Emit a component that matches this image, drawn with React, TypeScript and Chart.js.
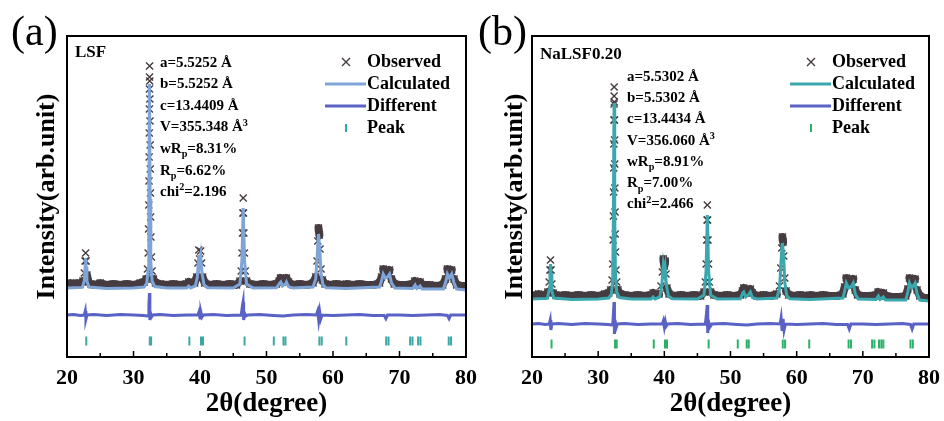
import React, { useEffect, useRef } from "react";
import { Chart, registerables } from "chart.js";

Chart.register(...registerables);

const SERIF = '"Liberation Serif", "Times New Roman", Times, serif';

// ---- shared axis / legend text ----
const xTickValues = [20, 25, 30, 35, 40, 45, 50, 55, 60, 65, 70, 75, 80];
const xTickLabels = ["20", "", "30", "", "40", "", "50", "", "60", "", "70", "", "80"];
const xTitle = "2θ(degree)";
const yTitle = "Intensity(arb.unit)";
const legendLabels = ["Observed", "Calculated", "Different", "Peak"];

// ---- Panel (a) LSF ----
const labelA = "(a)";
const sampleA = "LSF";
const statsA = ["a=5.5252 Å", "b=5.5252 Å", "c=13.4409 Å", "V=355.348 Å{^3}", "wR{_p}=8.31%", "R{_p}=6.62%", "chi{^2}=2.196"];

const obsXA = [
  20, 20.5, 21, 21.5, 22, 22.4, 22.6, 22.72, 22.8, 22.88,
  23, 23.2, 23.6, 24.2, 25, 26, 27, 28, 29, 30,
  31, 31.6, 31.9, 32.1, 32.2, 32.26, 32.3, 32.33, 32.35, 32.37,
  32.39, 32.4, 32.41, 32.42, 32.44, 32.46, 32.48, 32.5, 32.52, 32.55,
  32.58, 32.62, 32.7, 32.8, 33, 33.3, 34, 35, 36, 37,
  38, 38.3, 38.6, 39.2, 39.5, 39.7, 39.82, 39.95, 40.1, 40.25,
  40.4, 40.7, 41.5, 42.5, 43.5, 44.5, 45.5, 46, 46.2, 46.32,
  46.4, 46.46, 46.5, 46.54, 46.6, 46.68, 46.8, 47, 47.5, 48.5,
  49.5, 50.5, 51.5, 51.9, 52.1, 52.35, 52.8, 53, 53.3, 54,
  55, 56, 57, 57.4, 57.6, 57.72, 57.82, 57.95, 58.05, 58.2,
  58.4, 58.8, 59.5, 60.5, 61.5, 62, 63, 64, 65, 66,
  67, 67.3, 67.55, 67.8, 68.2, 68.5, 68.8, 69.2, 70, 71,
  72, 72.3, 72.6, 73.1, 73.5, 74.5, 75.5, 76.5, 76.9, 77.2,
  77.5, 77.85, 78.2, 78.6, 79.3, 80,
];
const obsYA = [
  2.5, 3, 2, 3, 2.5, 4, 8, 14, 18, 14,
  7, 3.5, 2.5, 2, 3, 2, 2.5, 2, 2.5, 2,
  3, 3.5, 5, 10, 18, 30, 42, 54, 66, 78,
  90, 100, 106, 111.5, 104, 95, 84, 72, 60, 48,
  36, 26, 16, 9, 5, 3, 2.5, 2, 2.5, 2,
  2.5, 3.5, 2.5, 3, 6, 13, 19.5, 15, 19, 13,
  6, 3, 2, 2.5, 2, 2.5, 2, 4, 9, 18,
  28, 38, 45.5, 38, 28, 18, 9, 4, 2.5, 2,
  2.5, 2, 2.5, 4, 5.5, 3.5, 4, 5.5, 3.5, 2,
  2.5, 2, 3, 6, 14, 24, 30.5, 27, 20, 10,
  4.5, 2.5, 2, 2.5, 2, 2.5, 2, 2.5, 2, 2,
  3, 6, 10, 7, 7.5, 9.5, 5, 2.5, 2, 2,
  2.5, 4, 2, 3.5, 2, 2, 1.5, 2, 5, 10,
  7, 9.5, 5, 2, 1.5, 1.5,
];
const calcXA = [
  20, 22.3, 22.6, 22.72, 22.8, 22.88, 23, 23.3, 26, 30,
  31.6, 32, 32.2, 32.3, 32.4, 32.5, 32.6, 32.8, 33.2, 35,
  38, 38.3, 38.6, 39.3, 39.6, 39.82, 39.95, 40.1, 40.3, 40.6,
  41.2, 45, 46, 46.3, 46.5, 46.7, 47, 48, 51.5, 52,
  52.15, 52.4, 52.85, 53, 53.3, 54, 57, 57.4, 57.65, 57.82,
  58, 58.2, 58.5, 59, 62, 67, 67.3, 67.55, 67.85, 68.2,
  68.5, 68.8, 69.3, 72, 72.35, 72.6, 73.1, 73.4, 76.6, 76.95,
  77.2, 77.5, 77.85, 78.2, 78.6, 80,
];
const calcYA = [
  0.5, 0.8, 4, 11, 15.5, 11, 4, 1, 0.3, 0.5,
  1, 3, 10, 40, 102.5, 45, 14, 4, 1.2, 0.5,
  0.5, 1.5, 0.5, 1.5, 6, 17, 13, 16.5, 8, 2,
  0.6, 0.5, 2.5, 14, 40.5, 14, 2.5, 0.5, 0.6, 3,
  3.5, 1.5, 2.5, 3.5, 1.2, 0.5, 1, 5, 18, 27.5,
  21, 8, 2, 0.6, 0.3, 1, 4, 7.5, 5.5, 6,
  7.5, 3, 0.5, 0.3, 2, 0.3, 1.5, 0, 0, 3.5,
  7.5, 5.5, 7.5, 3, 0, -0.5,
];
const diffXA = [
  20, 21, 22, 22.6, 22.75, 22.85, 23, 24, 26, 28,
  30, 31.5, 32.2, 32.32, 32.4, 32.46, 32.55, 32.7, 32.9, 34,
  36, 38, 39.7, 39.85, 40, 40.15, 40.3, 40.5, 42, 44,
  46.2, 46.4, 46.48, 46.56, 46.7, 46.9, 47.2, 49, 51, 52.5,
  54, 56, 57.5, 57.7, 57.85, 58, 58.15, 58.35, 60, 62,
  64, 66, 67.7, 67.95, 68.2, 70, 72, 74, 76, 77.2,
  77.45, 77.7, 79, 80,
];
const diffYA = [
  -13, -12.7, -13.2, -13, -11, -15, -13, -12.8, -13.2, -12.8,
  -13, -13.2, -13.5, -8, -2, -15.5, -12, -14, -13, -12.8,
  -13.2, -13, -13, -11.5, -14.5, -11.8, -14, -13, -12.8, -13.2,
  -13, -8, -6.5, -15.5, -12, -13.5, -13, -12.8, -13.2, -13.5,
  -13, -12.8, -13, -11, -15.5, -11.5, -15, -13, -13.2, -13,
  -12.8, -13.2, -13.2, -14.8, -13, -13, -13.3, -13, -12.8, -13.2,
  -14.8, -13, -13, -13,
];
const peakXA = [22.9, 32.45, 32.65, 38.4, 40.15, 40.45, 46.7, 51.1, 52.55, 52.85, 57.95, 58.3, 62.0, 68.0, 68.35, 71.6, 71.95, 72.8, 73.15, 77.4, 77.75];

// ---- Panel (b) NaLSF0.20 ----
const labelB = "(b)";
const sampleB = "NaLSF0.20";
const statsB = ["a=5.5302 Å", "b=5.5302 Å", "c=13.4434 Å", "V=356.060 Å{^3}", "wR{_p}=8.91%", "R{_p}=7.00%", "chi{^2}=2.466"];

const obsXB = [
  20, 20.5, 21, 21.5, 22, 22.4, 22.6, 22.72, 22.8, 22.88,
  23, 23.2, 23.6, 24.2, 25, 26, 27, 28, 29, 30,
  31, 31.6, 31.9, 32.1, 32.2, 32.26, 32.3, 32.33, 32.35, 32.37,
  32.39, 32.4, 32.41, 32.42, 32.44, 32.46, 32.48, 32.5, 32.52, 32.55,
  32.58, 32.62, 32.7, 32.8, 33, 33.3, 34, 35, 36, 37,
  38, 38.3, 38.6, 39.2, 39.5, 39.7, 39.85, 40, 40.12, 40.25,
  40.4, 40.7, 41.5, 42.5, 43.5, 44.5, 45.5, 46, 46.2, 46.32,
  46.4, 46.46, 46.5, 46.54, 46.6, 46.68, 46.8, 47, 47.5, 48.5,
  49.5, 50.5, 51.5, 51.8, 52, 52.3, 52.8, 53, 53.3, 54,
  55, 56, 57, 57.4, 57.6, 57.75, 57.85, 57.95, 58.05, 58.2,
  58.4, 58.8, 59.5, 60.5, 61.5, 62, 63, 64, 65, 66,
  67, 67.25, 67.5, 67.8, 68.2, 68.55, 68.85, 69.2, 70, 71,
  72, 72.3, 72.6, 73.1, 73.5, 74.5, 75.5, 76.5, 76.8, 77.05,
  77.4, 77.9, 78.2, 78.6, 79.3, 80,
];
const obsYB = [
  2.5, 2, 3, 2, 2.5, 4, 9, 15, 20, 15,
  8, 3.5, 2.5, 2, 2.5, 2, 2.5, 2, 2.5, 2,
  3, 3.5, 5, 10, 18, 30, 42, 54, 66, 78,
  90, 98, 102, 106.5, 99, 90, 80, 68, 56, 44,
  33, 24, 15, 9, 5, 3, 2.5, 2, 2.5, 2,
  2.5, 3.5, 2.5, 3, 7, 14, 20.5, 17, 19.5, 13,
  6, 3, 2, 2.5, 2, 2.5, 2, 4, 9, 18,
  30, 40, 47.5, 40, 30, 18, 9, 4, 2.5, 2,
  2.5, 2, 2.5, 4.5, 6, 3.5, 4.5, 5.5, 3.5, 2,
  2.5, 2, 3, 7, 16, 26, 31.5, 29, 22, 11,
  4.5, 2.5, 2, 2.5, 2, 2.5, 2, 2.5, 2, 2,
  3, 6.5, 11, 7.5, 8, 10.5, 5, 2.5, 2, 2,
  2.5, 4, 2, 3.5, 2, 1.5, 1.5, 2, 5.5, 11,
  7.5, 10.5, 5, 2, 1, 1,
];
const calcXB = [
  20, 22.3, 22.6, 22.72, 22.8, 22.88, 23, 23.3, 26, 30,
  31.6, 32, 32.2, 32.3, 32.4, 32.5, 32.6, 32.8, 33.2, 35,
  38, 38.3, 38.6, 39.3, 39.6, 39.85, 40, 40.12, 40.3, 40.6,
  41.2, 45, 46, 46.3, 46.5, 46.7, 47, 48, 51.5, 51.85,
  52, 52.3, 52.8, 53, 53.3, 54, 57, 57.4, 57.65, 57.85,
  58.05, 58.2, 58.5, 59, 62, 67, 67.25, 67.5, 67.85, 68.2,
  68.55, 68.85, 69.3, 72, 72.35, 72.6, 73.1, 73.4, 76.5, 76.8,
  77.05, 77.4, 77.9, 78.2, 78.6, 80,
];
const calcYB = [
  0.5, 0.8, 5, 13, 18, 13, 4.5, 1, 0.3, 0.5,
  1, 3, 10, 40, 98.5, 45, 14, 4, 1.2, 0.5,
  0.5, 1.5, 0.5, 1.5, 7, 17.5, 14, 16.5, 8, 2,
  0.6, 0.5, 2.5, 14, 42.5, 14, 2.5, 0.5, 0.6, 3.5,
  4, 1.5, 3, 4, 1.2, 0.5, 1, 5.5, 20, 28.5,
  21, 9, 2, 0.6, 0.3, 1, 4.5, 8.5, 6, 6.5,
  8.5, 3, 0.5, 0.3, 2, 0.3, 1.5, 0, 0, 4,
  8.5, 6, 8.5, 3, 0, -0.5,
];
const diffXB = [
  20, 21, 22, 22.6, 22.75, 22.85, 23, 24, 26, 28,
  30, 31.5, 32.2, 32.32, 32.4, 32.46, 32.55, 32.7, 32.9, 34,
  36, 38, 39.7, 39.85, 40, 40.15, 40.3, 40.5, 42, 44,
  46.2, 46.4, 46.48, 46.56, 46.7, 46.9, 47.2, 49, 51, 52.5,
  54, 56, 57.5, 57.65, 57.8, 57.95, 58.1, 58.3, 60, 62,
  64, 66, 67.7, 67.95, 68.2, 70, 72, 74, 76, 77.2,
  77.45, 77.7, 79, 80,
];
const diffYB = [
  -12, -11.7, -12.2, -12, -10, -15, -12, -11.8, -12.2, -11.8,
  -12, -12.2, -12.5, -6, -1, -17, -10, -14, -12, -11.8,
  -12.2, -12, -12, -10.5, -13.5, -10.8, -13, -12, -11.8, -12.2,
  -12, -6, -2.5, -16.5, -11, -13.5, -12, -11.8, -12.2, -12.5,
  -12, -11.8, -12, -9, -15.5, -9.5, -15, -12, -12.2, -12,
  -11.8, -12.2, -12.2, -14.5, -12, -12, -12.3, -12, -11.8, -12.2,
  -14.5, -12, -12, -12,
];
const peakXB = [22.95, 32.55, 32.8, 38.4, 40.1, 40.4, 46.7, 51.1, 52.45, 52.75, 57.9, 58.25, 61.9, 67.85, 68.2, 71.4, 71.75, 72.45, 72.8, 73.1, 77.2, 77.55];

// ---- styles ----
const OBS = "#463c41";
const DIFF = "#5a62c6";

interface Panel {
  label: string; sample: string; stats: string[];
  obsX: number[]; obsY: number[]; calcX: number[]; calcY: number[];
  diffX: number[]; diffY: number[]; peakX: number[]; peakLevel: number;
  yMin: number; yMax: number; calcColor: string; peakColor: string;
  plotLeft: number; padTop: number; padRight: number; yTitleX: number;
  labelX: number; sampleDy: number; statsDx: number; statsDy: number; statsStep: number; legendDx: number;
}

const panelA: Panel = {
  label: labelA, sample: sampleA, stats: statsA,
  obsX: obsXA, obsY: obsYA, calcX: calcXA, calcY: calcYA, diffX: diffXA, diffY: diffYA,
  peakX: peakXA, peakLevel: -26, yMin: -34, yMax: 126.5,
  calcColor: "#7fa5d8", peakColor: "#3ba7a4",
  plotLeft: 67, padTop: 36, padRight: 14, yTitleX: 47,
  labelX: 11, sampleDy: 20.5, statsDx: 93, statsDy: 30.5, statsStep: 21.6, legendDx: 99,
};
const panelB: Panel = {
  label: labelB, sample: sampleB, stats: statsB,
  obsX: obsXB, obsY: obsYB, calcX: calcXB, calcY: calcYB, diffX: diffXB, diffY: diffYB,
  peakX: peakXB, peakLevel: -22, yMin: -28.5, yMax: 132,
  calcColor: "#3aa8ae", peakColor: "#2bb067",
  plotLeft: 60, padTop: 36, padRight: 15, yTitleX: 43,
  labelX: 6, sampleDy: 23, statsDx: 95, statsDy: 45, statsStep: 21.2, legendDx: 97,
};

function drawRich(ctx: CanvasRenderingContext2D, text: string, x: number, y: number, size: number) {
  const re = /\{([\^_])([^}]*)\}/g;
  const parts: [string, number][] = [];
  let last = 0;
  let m: RegExpExecArray | null;
  while ((m = re.exec(text))) {
    if (m.index > last) parts.push([text.slice(last, m.index), 0]);
    parts.push([m[2], m[1] === "^" ? 1 : -1]);
    last = re.lastIndex;
  }
  if (last < text.length) parts.push([text.slice(last), 0]);
  let cx = x;
  for (const [t, k] of parts) {
    const s = k === 0 ? size : size * 0.68;
    ctx.font = `bold ${s}px ${SERIF}`;
    const dy = k === 1 ? -size * 0.38 : k === -1 ? size * 0.3 : 0;
    ctx.fillText(t, cx, y + dy);
    cx += ctx.measureText(t).width;
  }
}

function buildChart(canvas: HTMLCanvasElement, p: Panel) {
  const pts = (xs: number[], ys: number[]) => xs.map((x, i) => ({ x, y: ys[i] }));
  const deco = {
    id: "deco",
    afterDraw(chart: any) {
      const ctx: CanvasRenderingContext2D = chart.ctx;
      const a = chart.chartArea;
      const xs = chart.scales.x;
      ctx.save();
      // inward ticks on bottom axis
      ctx.strokeStyle = "#000";
      ctx.lineWidth = 1.5;
      ctx.beginPath();
      xTickValues.forEach((v, i) => {
        const px = xs.getPixelForValue(v);
        const len = xTickLabels[i] ? 6 : 4;
        ctx.moveTo(px, a.bottom);
        ctx.lineTo(px, a.bottom - len);
      });
      ctx.stroke();
      // frame
      ctx.lineWidth = 2;
      ctx.strokeRect(a.left, a.top, a.right - a.left, a.bottom - a.top);
      ctx.fillStyle = "#000";
      ctx.textAlign = "left";
      ctx.textBaseline = "alphabetic";
      ctx.font = `42px ${SERIF}`;
      ctx.fillText(p.label, p.labelX, 45);
      ctx.font = `bold 17px ${SERIF}`;
      ctx.fillText(p.sample, a.left + 8, a.top + p.sampleDy);
      p.stats.forEach((s, i) => drawRich(ctx, s, a.left + p.statsDx, a.top + p.statsDy + i * p.statsStep, 15));
      const colors = [OBS, p.calcColor, DIFF, p.peakColor];
      legendLabels.forEach((t, i) => {
        const y = a.top + 26 + i * 22;
        const tx = a.right - p.legendDx;
        const cx = tx - 21;
        ctx.strokeStyle = colors[i];
        ctx.beginPath();
        if (i === 0) {
          ctx.lineWidth = 1.4;
          ctx.moveTo(cx - 4, y - 4); ctx.lineTo(cx + 4, y + 4);
          ctx.moveTo(cx + 4, y - 4); ctx.lineTo(cx - 4, y + 4);
        } else if (i === 3) {
          ctx.lineWidth = 2;
          ctx.moveTo(cx, y - 4); ctx.lineTo(cx, y + 4);
        } else {
          ctx.lineWidth = 3;
          ctx.moveTo(tx - 42, y); ctx.lineTo(tx - 1, y);
        }
        ctx.stroke();
        ctx.font = `bold 18px ${SERIF}`;
        ctx.textBaseline = "middle";
        ctx.fillText(t, tx, y);
        ctx.textBaseline = "alphabetic";
      });
      ctx.restore();
    },
  };
  const titleFont = { family: SERIF, size: 26, weight: "bold" as const };
  return new Chart(canvas, {
    type: "line",
    data: {
      datasets: [
        { label: "Calculated", data: pts(p.calcX, p.calcY), borderColor: p.calcColor, borderWidth: 3, pointRadius: 0, tension: 0, order: 0 },
        { label: "Different", data: pts(p.diffX, p.diffY), borderColor: DIFF, borderWidth: 3, pointRadius: 0, tension: 0, order: 1 },
        {
          label: "Peak", data: p.peakX.map((x) => ({ x, y: p.peakLevel })), showLine: false,
          pointStyle: "line", pointRotation: 90, pointRadius: 4.5, pointBorderWidth: 2,
          pointBorderColor: p.peakColor, borderColor: p.peakColor, backgroundColor: p.peakColor, order: 2,
        },
        {
          label: "Observed", data: pts(p.obsX, p.obsY), borderColor: OBS, borderWidth: 8,
          borderJoinStyle: "round", borderCapStyle: "round",
          tension: 0,
          segment: {
            borderColor: (c: any) => {
              const dx = Math.abs(c.p1.x - c.p0.x);
              const dy = Math.abs(c.p1.y - c.p0.y);
              return dy > 7 && dy > 2 * dx ? "rgba(0,0,0,0)" : OBS;
            },
          },
          pointStyle: "crossRot", pointRadius: 5, pointBorderWidth: 1.4,
          pointBorderColor: OBS, pointBackgroundColor: OBS, order: 3,
        },
      ] as any,
    },
    options: {
      responsive: false,
      animation: false,
      events: [],
      layout: { padding: { left: 0, top: p.padTop, right: p.padRight, bottom: 0 } },
      plugins: { legend: { display: false }, tooltip: { enabled: false } },
      scales: {
        x: {
          type: "linear", min: 20, max: 80,
          afterBuildTicks: (s: any) => { s.ticks = xTickValues.map((v) => ({ value: v })); },
          afterFit: (s: any) => { s.height = 64; s.paddingLeft = 0; s.paddingRight = 0; },
          ticks: {
            autoSkip: false, maxRotation: 0, minRotation: 0, padding: 7.8, color: "#000",
            font: { family: SERIF, size: 22, weight: "bold" },
            callback: (_v: any, i: number) => xTickLabels[i],
          },
          grid: { display: false, drawOnChartArea: false, drawTicks: false },
          border: { display: false },
          title: { display: true, text: xTitle, color: "#000", font: { family: SERIF, size: 27, weight: "bold" }, padding: { top: 0, bottom: 1 } },
        },
        y: {
          type: "linear", min: p.yMin, max: p.yMax,
          afterFit: (s: any) => { s.width = p.plotLeft; },
          ticks: { display: false },
          grid: { display: false },
          border: { display: false },
          title: { display: true, text: yTitle, color: "#000", font: titleFont, padding: { top: p.yTitleX - 15.6, bottom: 0 } },
        },
      },
    } as any,
    plugins: [deco],
  });
}

function PanelChart({ panel, left, width }: { panel: Panel; left: number; width: number }) {
  const ref = useRef<HTMLCanvasElement>(null);
  useEffect(() => {
    const chart = buildChart(ref.current!, panel);
    return () => chart.destroy();
  }, [panel]);
  return (
    <canvas
      ref={ref}
      width={width}
      height={421}
      style={{ position: "absolute", left, top: 0, width, height: 421 }}
    />
  );
}

export default function App() {
  return (
    <div style={{ position: "absolute", left: 0, top: 0, width: 944, height: 421, background: "#fff", overflow: "hidden" }}>
      <PanelChart panel={panelA} left={0} width={480} />
      <PanelChart panel={panelB} left={472} width={472} />
    </div>
  );
}
